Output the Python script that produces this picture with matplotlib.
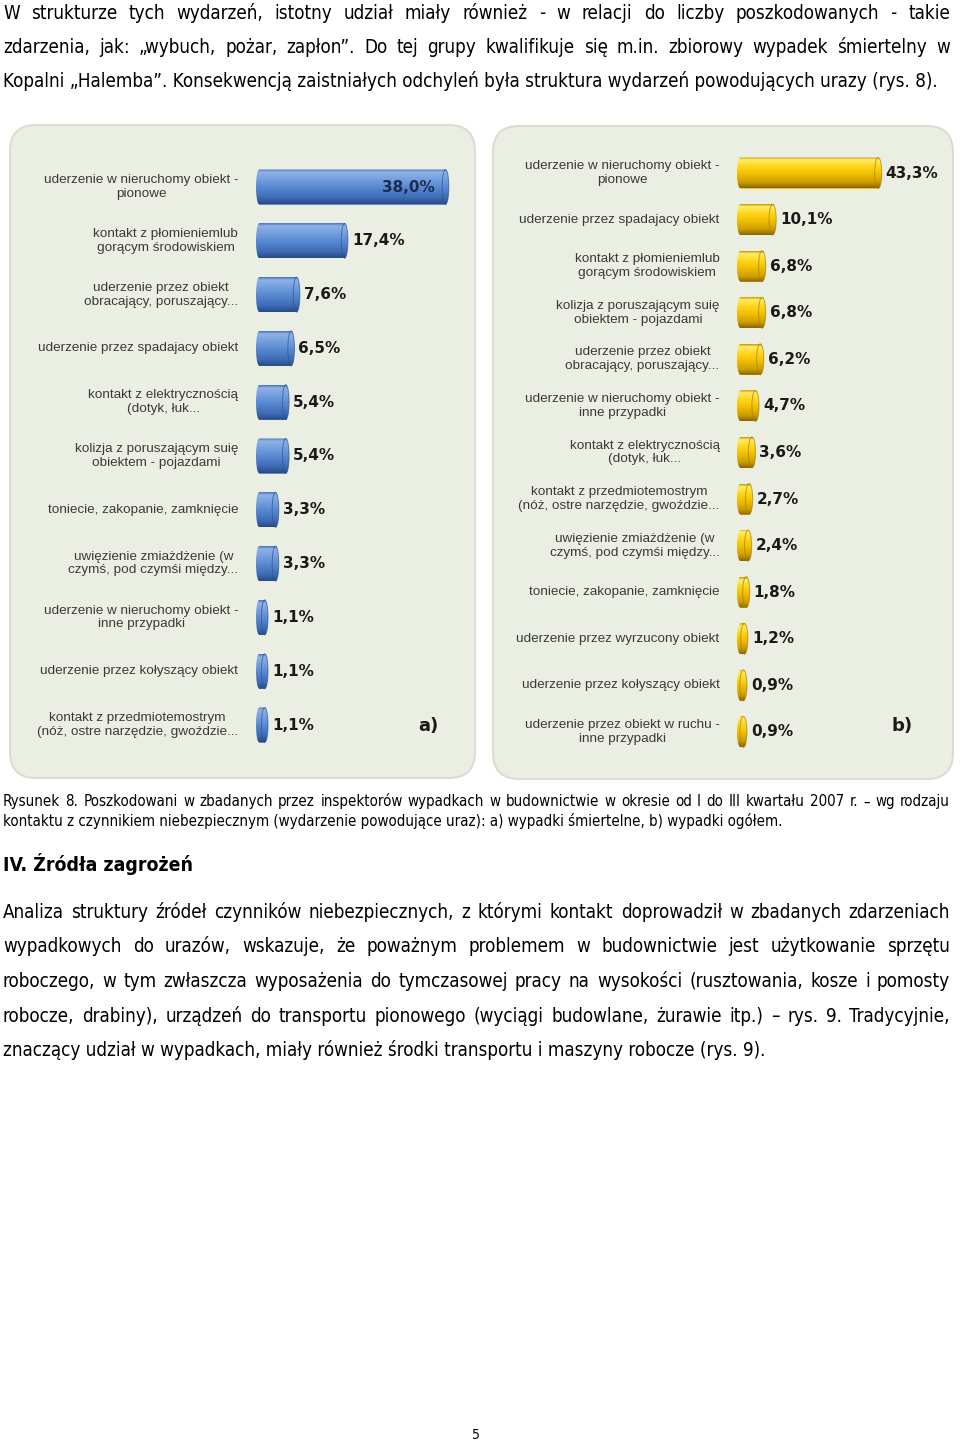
import os
import numpy as np
import matplotlib
matplotlib.use('Agg')
import matplotlib.pyplot as plt
from matplotlib import font_manager
from matplotlib.patches import FancyBboxPatch, PathPatch, Ellipse
from matplotlib.path import Path
from matplotlib.colors import LinearSegmentedColormap
from matplotlib.font_manager import FontProperties

# ---------------- data ----------------
left_labels = [
    "uderzenie w nieruchomy obiekt -\npionowe",
    "kontakt z płomieniemlub\ngorącym środowiskiem",
    "uderzenie przez obiekt\nobracający, poruszający...",
    "uderzenie przez spadajacy obiekt",
    "kontakt z elektrycznością\n(dotyk, łuk...",
    "kolizja z poruszającym suię\nobiektem - pojazdami",
    "toniecie, zakopanie, zamknięcie",
    "uwięzienie zmiażdżenie (w\nczymś, pod czymśi między...",
    "uderzenie w nieruchomy obiekt -\ninne przypadki",
    "uderzenie przez kołyszący obiekt",
    "kontakt z przedmiotemostrym\n(nóż, ostre narzędzie, gwoździe...",
]
left_values = [38.0, 17.4, 7.6, 6.5, 5.4, 5.4, 3.3, 3.3, 1.1, 1.1, 1.1]

right_labels = [
    "uderzenie w nieruchomy obiekt -\npionowe",
    "uderzenie przez spadajacy obiekt",
    "kontakt z płomieniemlub\ngorącym środowiskiem",
    "kolizja z poruszającym suię\nobiektem - pojazdami",
    "uderzenie przez obiekt\nobracający, poruszający...",
    "uderzenie w nieruchomy obiekt -\ninne przypadki",
    "kontakt z elektrycznością\n(dotyk, łuk...",
    "kontakt z przedmiotemostrym\n(nóż, ostre narzędzie, gwoździe...",
    "uwięzienie zmiażdżenie (w\nczymś, pod czymśi między...",
    "toniecie, zakopanie, zamknięcie",
    "uderzenie przez wyrzucony obiekt",
    "uderzenie przez kołyszący obiekt",
    "uderzenie przez obiekt w ruchu -\ninne przypadki",
]
right_values = [43.3, 10.1, 6.8, 6.8, 6.2, 4.7, 3.6, 2.7, 2.4, 1.8, 1.2, 0.9, 0.9]

panel_tags = ["a)", "b)"]

top_lines = [
    "W strukturze tych wydarzeń, istotny udział miały również - w relacji do liczby poszkodowanych - takie",
    "zdarzenia, jak: „wybuch, pożar, zapłon”. Do tej grupy kwalifikuje się m.in. zbiorowy wypadek śmiertelny w",
    "Kopalni „Halemba”. Konsekwencją zaistniałych odchyleń była struktura wydarzeń powodujących urazy (rys. 8).",
]
caption_lines = [
    "Rysunek 8. Poszkodowani w zbadanych przez inspektorów wypadkach w budownictwie w okresie od I do III kwartału 2007 r. – wg rodzaju",
    "kontaktu z czynnikiem niebezpiecznym (wydarzenie powodujące uraz): a) wypadki śmiertelne, b) wypadki ogółem.",
]
heading = "IV. Źródła zagrożeń"
para_lines = [
    "Analiza struktury źródeł czynników niebezpiecznych, z którymi kontakt doprowadził w zbadanych zdarzeniach",
    "wypadkowych do urazów, wskazuje, że poważnym problemem w budownictwie jest użytkowanie sprzętu",
    "roboczego, w tym zwłaszcza wyposażenia do tymczasowej pracy na wysokości (rusztowania, kosze i pomosty",
    "robocze, drabiny), urządzeń do transportu pionowego (wyciągi budowlane, żurawie itp.) – rys. 9. Tradycyjnie,",
    "znaczący udział w wypadkach, miały również środki transportu i maszyny robocze (rys. 9).",
]
page_number = "5"

# ---------------- setup ----------------
W, H = 960, 1444
fig = plt.figure(figsize=(W / 100, H / 100), dpi=100)
fig.patch.set_facecolor('white')
bg = fig.add_axes([0, 0, 1, 1])
bg.set_xlim(0, W)
bg.set_ylim(H, 0)
bg.axis('off')


def font_path(basenames):
    for b in basenames:
        for f in font_manager.fontManager.ttflist:
            if os.path.basename(f.fname) == b:
                return f.fname
    return None


reg = font_path(['DejaVuSansCondensed.ttf', 'LiberationSansNarrow-Regular.ttf'])
bold = font_path(['DejaVuSansCondensed-Bold.ttf', 'LiberationSansNarrow-Bold.ttf'])
fp_reg = FontProperties(fname=reg) if reg else FontProperties(family='Liberation Sans')
fp_bold = FontProperties(fname=bold) if bold else FontProperties(family='Liberation Sans', weight='bold')

renderer = fig.canvas.get_renderer()


def text_width(s, fp):
    t = bg.text(0, 0, s, fontproperties=fp)
    w = t.get_window_extent(renderer).width
    t.remove()
    return w


def fit(s, base, target):
    fp = base.copy()
    fp.set_size(10)
    w = text_width(s, fp)
    fp.set_size(10 * target / w)
    return fp


def baseline(yc, fp):
    return yc + 0.36 * fp.get_size_in_points() * 100 / 72


def justify(s, yc, fp, x0=3, x1=950):
    words = s.split(' ')
    ws = [text_width(w, fp) for w in words]
    gap = (x1 - x0 - sum(ws)) / (len(words) - 1)
    x = x0
    yb = baseline(yc, fp)
    for w, wd in zip(words, ws):
        bg.text(x, yb, w, fontproperties=fp, ha='left', va='baseline', color='black')
        x += wd + gap


def plain(s, yc, fp, x0=3):
    bg.text(x0, baseline(yc, fp), s, fontproperties=fp, ha='left', va='baseline', color='black')


# top paragraph
fp_top = fit(top_lines[2], fp_reg, 937)
justify(top_lines[0], 12, fp_top)
justify(top_lines[1], 46, fp_top)
plain(top_lines[2], 80, fp_top)

# caption
fp_cap = fit(caption_lines[1], fp_reg, 777)
justify(caption_lines[0], 801, fp_cap)
plain(caption_lines[1], 821, fp_cap)

# heading
fp_head = fit(heading, fp_bold, 189)
plain(heading, 864, fp_head)

# paragraph
fp_par = fit(para_lines[4], fp_reg, 765)
for i, yc in enumerate([911, 945, 980, 1015]):
    justify(para_lines[i], yc, fp_par)
plain(para_lines[4], 1049, fp_par)

fp_page = fp_reg.copy()
fp_page.set_size(10)
bg.text(476, baseline(1434, fp_page), page_number, fontproperties=fp_page,
        ha='center', va='baseline', color='black')

# panels
for (x, y, w, h) in [(10, 125, 465, 653), (493, 126, 460, 653)]:
    bg.add_patch(FancyBboxPatch((x, y), w, h, boxstyle='round,pad=0,rounding_size=26',
                                fc='#ebefe3', ec='#d9ddd0', lw=1.4, zorder=0))

bg.text(428, 726, panel_tags[0], ha='center', va='center', fontsize=13,
        fontweight='bold', family='DejaVu Sans', color='#1a1a1a')
bg.text(902, 726, panel_tags[1], ha='center', va='center', fontsize=13,
        fontweight='bold', family='DejaVu Sans', color='#1a1a1a')

# ---------------- charts ----------------
blue = LinearSegmentedColormap.from_list('blue', [
    (0.0, '#4672b8'), (0.08, '#8fb2e6'), (0.28, '#76a0de'), (0.55, '#5586d0'),
    (0.82, '#3d6bb3'), (1.0, '#284a86')])
yellow = LinearSegmentedColormap.from_list('yellow', [
    (0.0, '#c29700'), (0.08, '#ffec6a'), (0.28, '#ffd820'), (0.55, '#f0be00'),
    (0.82, '#cc9c00'), (1.0, '#876500')])


def capsule(xa, xb, yc, ry, rx):
    t1 = np.linspace(np.pi / 2, 3 * np.pi / 2, 40)
    t2 = np.linspace(-np.pi / 2, np.pi / 2, 40)
    left = np.column_stack([xa + rx * np.cos(t1), yc + ry * np.sin(t1)])
    right = np.column_stack([xb + rx * np.cos(t2), yc + ry * np.sin(t2)])
    verts = np.vstack([left, right, left[:1]])
    codes = [Path.MOVETO] + [Path.LINETO] * (len(verts) - 2) + [Path.CLOSEPOLY]
    return Path(verts, codes)


def chart(labels, values, x0_px, k, xmin, xmax, yc0, dy, bar_h_px, rx_px, cmap, edge):
    n = len(values)
    left = x0_px + xmin * k
    width = (xmax - xmin) * k
    top = yc0 - dy / 2
    height = n * dy
    ax = fig.add_axes([left / W, 1 - (top + height) / H, width / W, height / H])
    ax.axis('off')
    ys = np.arange(n)
    hh = bar_h_px / dy
    bars = ax.barh(ys, values, height=hh, color=cmap(0.5), linewidth=0, zorder=1)
    rx = rx_px / k
    grad = np.linspace(0, 1, 128).reshape(-1, 1)
    for b, lab, v in zip(bars, labels, values):
        xa, ya, wd, ht = b.get_x(), b.get_y(), b.get_width(), b.get_height()
        yc = ya + ht / 2
        patch = PathPatch(capsule(xa, xa + wd, yc, ht / 2, rx), transform=ax.transData,
                          fc='none', ec='none')
        ax.add_patch(patch)
        im = ax.imshow(grad, cmap=cmap, aspect='auto', interpolation='bilinear',
                       extent=(xa - rx, xa + wd + rx, yc + ht / 2, yc - ht / 2),
                       origin='upper', zorder=2)
        im.set_clip_path(patch)
        ax.add_patch(Ellipse((xa + wd, yc), 2 * rx, ht, fc='none', ec=edge,
                             lw=0.7, alpha=0.7, zorder=3))
        ax.annotate(lab, xy=(0, yc), xytext=(-21, 0), textcoords='offset pixels',
                    ha='right', va='center', multialignment='center',
                    fontsize=9.7, family='Liberation Sans', color='#3a3a3a')
        txt = f"{v:.1f}".replace('.', ',') + '%'
        if v * k > 150:
            ax.annotate(txt, xy=(xa + wd, yc), xytext=(-rx_px - 7.5, 0),
                        textcoords='offset pixels', ha='right', va='center',
                        fontsize=11, fontweight='bold', family='DejaVu Sans',
                        color='#1c2b50', zorder=5)
        else:
            ax.annotate(txt, xy=(xa + wd, yc), xytext=(rx_px + 4, 0),
                        textcoords='offset pixels', ha='left', va='center',
                        fontsize=11, fontweight='bold', family='DejaVu Sans',
                        color='#1a1a1a', zorder=5)
    ax.set_xlim(xmin, xmax)
    ax.set_ylim(n - 0.5, -0.5)
    return ax


chart(left_labels, left_values, 259.3, 4.9, -1.5, 44, 187, 53.8, 35, 3.3, blue, '#2f5596')
chart(right_labels, right_values, 740.5, 3.18, -2.0, 50, 173, 46.58, 31, 3.55, yellow, '#a88200')

fig.savefig('out.png', dpi=100, facecolor='white')
